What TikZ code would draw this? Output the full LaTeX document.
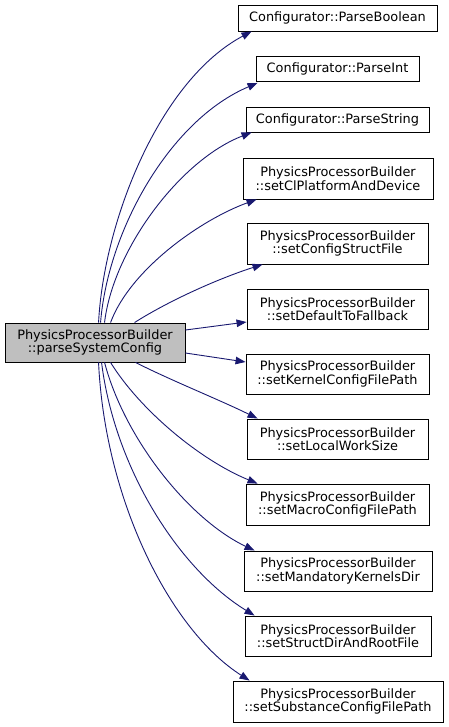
\documentclass[tikz,border=0pt]{standalone}
\usepackage{fontspec}
\setmainfont{DejaVu Sans}
\usetikzlibrary{arrows.meta}
\definecolor{edgeblue}{HTML}{191970}
\definecolor{rootfill}{HTML}{BFBFBF}
\tikzset{
  box/.style={draw=black, line width=0.9pt, fill=white, inner sep=0pt, align=center,
    font=\fontsize{12.9}{13.6}\selectfont},
  rootbox/.style={box, fill=rootfill},
  call/.style={draw=edgeblue, line width=0.9pt, -{Triangle[length=10pt,width=7.5pt]}, edgeblue},
}
\begin{document}
\begin{tikzpicture}[x=1pt, y=-1pt]
\useasboundingbox (0,0) rectangle (448,727);
\node[rootbox, minimum width=180pt, minimum height=39pt] (src) at (95,342.5) {PhysicsProcessorBuilder\\::parseSystemConfig};
\node[box, minimum width=199pt, minimum height=26pt] (t1) at (337.5,18) {Configurator::ParseBoolean};
\node[box, minimum width=163pt, minimum height=25pt] (t2) at (337.5,69) {Configurator::ParseInt};
\node[box, minimum width=183pt, minimum height=25pt] (t3) at (337.5,119.5) {Configurator::ParseString};
\node[box, minimum width=190pt, minimum height=41pt] (t4) at (338,178.5) {PhysicsProcessorBuilder\\::setClPlatformAndDevice};
\node[box, minimum width=181pt, minimum height=41pt] (t5) at (337.5,243.5) {PhysicsProcessorBuilder\\::setConfigStructFile};
\node[box, minimum width=181pt, minimum height=40pt] (t6) at (337.5,309) {PhysicsProcessorBuilder\\::setDefaultToFallback};
\node[box, minimum width=183pt, minimum height=40pt] (t7) at (337.5,374) {PhysicsProcessorBuilder\\::setKernelConfigFilePath};
\node[box, minimum width=181pt, minimum height=40pt] (t8) at (337.5,439) {PhysicsProcessorBuilder\\::setLocalWorkSize};
\node[box, minimum width=183pt, minimum height=41pt] (t9) at (337.5,504.5) {PhysicsProcessorBuilder\\::setMacroConfigFilePath};
\node[box, minimum width=188pt, minimum height=40pt] (t10) at (338,571) {PhysicsProcessorBuilder\\::setMandatoryKernelsDir};
\node[box, minimum width=186pt, minimum height=40pt] (t11) at (338,636) {PhysicsProcessorBuilder\\::setStructDirAndRootFile};
\node[box, minimum width=210pt, minimum height=41pt] (t12) at (338,701.5) {PhysicsProcessorBuilder\\::setSubstanceConfigFilePath};

\draw[call] ([xshift=94pt]src.north west) .. controls (104,220) and (160,80) .. ([xshift=14pt]t1.south west);
\draw[call] ([xshift=96pt]src.north west) .. controls (108,230) and (170,120) .. ([xshift=2pt,yshift=-1pt]t2.south west);
\draw[call] ([xshift=100pt]src.north west) .. controls (113,250) and (180,160) .. ([xshift=6pt]t3.south west);
\draw[call] ([xshift=106pt]src.north west) .. controls (130,270) and (200,220) .. ([xshift=14pt]t4.south west);
\draw[call] ([xshift=130pt]src.north west) .. controls (170,300) and (220,278) .. ([xshift=16pt]t5.south west);
\draw[call] ([yshift=12.5pt]src.east) -- ([yshift=-13pt]t6.west);
\draw[call] ([yshift=-10.5pt]src.east) -- ([yshift=12pt]t7.west);
\draw[call] ([xshift=131pt]src.south west) .. controls (170,380) and (220,400) .. ([xshift=11pt]t8.north west);
\draw[call] ([xshift=106pt]src.south west) .. controls (140,410) and (200,460) .. ([xshift=12pt]t9.north west);
\draw[call] ([xshift=100pt]src.south west) .. controls (125,440) and (190,520) .. ([xshift=11pt]t10.north west);
\draw[call] ([xshift=97pt]src.south west) .. controls (115,470) and (180,570) .. ([xshift=10pt]t11.north west);
\draw[call] ([xshift=94pt]src.south west) .. controls (105,500) and (170,630) .. ([xshift=17pt]t12.north west);
\end{tikzpicture}
\end{document}
